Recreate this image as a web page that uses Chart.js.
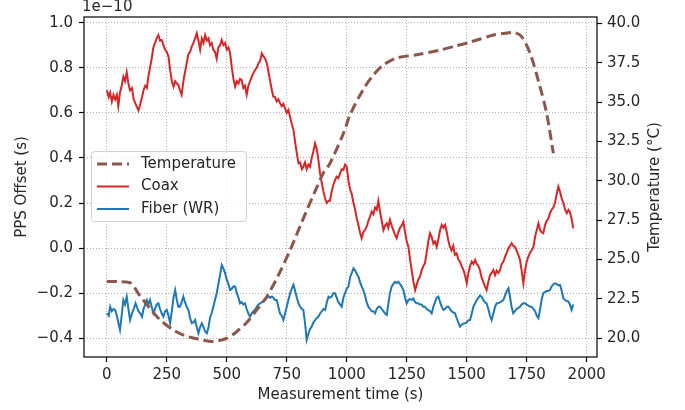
<!DOCTYPE html>
<html>
<head>
<meta charset="utf-8">
<script src="https://cdn.jsdelivr.net/npm/chart.js@4/dist/chart.umd.min.js"></script>
<style>
  html, body { margin: 0; padding: 0; background: #fff; }
  #wrap { width: 685px; height: 410px; }
</style>
</head>
<body>
<div id="wrap"><canvas id="ppsChart" width="685" height="410"></canvas></div>
<script>
// tick labels
const xTicks = [0, 250, 500, 750, 1000, 1250, 1500, 1750, 2000];
const offsetTicks = [-0.4, -0.2, 0.0, 0.2, 0.4, 0.6, 0.8, 1.0];
const tempTicks = [20.0, 22.5, 25.0, 27.5, 30.0, 32.5, 35.0, 37.5, 40.0];

// Temperature (°C) vs time (s)
const tempTime = [0, 50, 100, 133, 180, 220, 270, 320, 380, 445, 500, 540, 583, 625, 667, 715, 764, 830, 903, 930,
  986, 1014, 1069, 1110, 1153, 1208, 1292, 1389, 1450, 1514, 1611, 1650, 1701, 1729, 1764, 1805, 1833, 1861];
const tempValue = [23.6, 23.6, 23.5, 22.8, 21.9, 21.2, 20.6, 20.2, 19.95, 19.8, 20.0, 20.4, 21.0, 21.8, 22.65, 24.0, 25.6, 28.0, 30.5, 31.1,
  33.0, 34.2, 35.8, 36.7, 37.35, 37.8, 38.0, 38.3, 38.55, 38.8, 39.26, 39.35, 39.4, 39.15, 38.1, 36.0, 34.3, 31.75];

// Coax PPS offset, units of 1e-10 s
const coaxTime = [0, 8, 14, 21, 28, 35, 42, 48, 55, 62, 69, 76, 83, 90, 97, 105, 112, 120, 132, 140,
  147, 153, 160, 167, 173, 180, 187, 194, 201, 208, 215, 222, 229, 236, 243, 250, 257, 264, 271, 278,
  285, 292, 298, 305, 312, 319, 326, 333, 340, 347, 354, 361, 368, 375, 382, 389, 396, 403, 410, 417,
  424, 430, 437, 444, 451, 458, 465, 472, 479, 486, 493, 500, 507, 514, 521, 528, 535, 542, 549, 555,
  562, 569, 576, 583, 590, 597, 604, 611, 618, 625, 632, 639, 646, 653, 660, 667, 674, 681, 688, 694,
  701, 708, 715, 722, 729, 736, 743, 750, 757, 764, 771, 778, 785, 792, 799, 806, 813, 819, 826, 833,
  840, 847, 854, 861, 868, 875, 882, 889, 896, 903, 910, 917, 924, 930, 937, 944, 951, 958, 965, 972,
  979, 986, 993, 1000, 1007, 1014, 1021, 1028, 1035, 1042, 1049, 1055, 1062, 1069, 1076, 1083, 1090, 1097, 1104, 1111,
  1118, 1125, 1132, 1139, 1146, 1153, 1160, 1167, 1173, 1180, 1187, 1194, 1201, 1208, 1215, 1222, 1229, 1236, 1243, 1250,
  1257, 1264, 1271, 1278, 1285, 1292, 1298, 1305, 1312, 1319, 1326, 1333, 1340, 1347, 1354, 1361, 1368, 1375, 1382, 1389,
  1396, 1403, 1410, 1417, 1424, 1430, 1437, 1444, 1451, 1458, 1465, 1472, 1479, 1486, 1493, 1500, 1507, 1514, 1521, 1528,
  1535, 1542, 1549, 1555, 1562, 1569, 1576, 1583, 1590, 1597, 1604, 1611, 1618, 1625, 1632, 1639, 1646, 1653, 1660, 1667,
  1674, 1681, 1687, 1694, 1701, 1708, 1715, 1722, 1729, 1736, 1743, 1750, 1757, 1764, 1771, 1778, 1785, 1792, 1799, 1806,
  1812, 1819, 1826, 1833, 1840, 1847, 1854, 1861, 1868, 1875, 1882, 1889, 1896, 1903, 1910, 1917, 1924, 1930, 1937, 1944];
const coaxValue = [0.70, 0.67, 0.69, 0.65, 0.68, 0.66, 0.68, 0.63, 0.69, 0.72, 0.76, 0.74, 0.78, 0.73, 0.70, 0.71, 0.66, 0.64, 0.61, 0.64,
  0.67, 0.70, 0.72, 0.71, 0.76, 0.80, 0.84, 0.89, 0.91, 0.93, 0.945, 0.92, 0.923, 0.90, 0.88, 0.87, 0.85, 0.79, 0.74, 0.716,
  0.74, 0.73, 0.724, 0.70, 0.68, 0.74, 0.78, 0.82, 0.86, 0.87, 0.894, 0.91, 0.93, 0.953, 0.92, 0.88, 0.93, 0.91, 0.945, 0.92,
  0.93, 0.90, 0.91, 0.88, 0.87, 0.84, 0.89, 0.90, 0.923, 0.90, 0.91, 0.88, 0.89, 0.864, 0.80, 0.75, 0.716, 0.74, 0.73, 0.75,
  0.746, 0.71, 0.72, 0.68, 0.72, 0.74, 0.76, 0.776, 0.79, 0.80, 0.82, 0.83, 0.864, 0.85, 0.84, 0.82, 0.78, 0.74, 0.70, 0.672,
  0.67, 0.65, 0.66, 0.643, 0.63, 0.64, 0.62, 0.60, 0.613, 0.58, 0.55, 0.524, 0.47, 0.42, 0.376, 0.38, 0.35, 0.36, 0.38, 0.35,
  0.37, 0.36, 0.40, 0.43, 0.465, 0.44, 0.39, 0.33, 0.29, 0.25, 0.22, 0.20, 0.21, 0.21, 0.25, 0.28, 0.30, 0.317, 0.31, 0.33,
  0.35, 0.347, 0.37, 0.36, 0.30, 0.26, 0.24, 0.20, 0.17, 0.13, 0.10, 0.07, 0.044, 0.07, 0.08, 0.095, 0.12, 0.14, 0.162, 0.15,
  0.18, 0.17, 0.21, 0.16, 0.12, 0.08, 0.10, 0.11, 0.09, 0.125, 0.10, 0.08, 0.06, 0.044, 0.07, 0.09, 0.10, 0.117, 0.07, 0.03,
  0.006, -0.05, -0.10, -0.15, -0.186, -0.16, -0.14, -0.127, -0.10, -0.08, -0.067, -0.02, 0.03, 0.066, 0.05, 0.02, 0.03, 0.006, 0.04, 0.08,
  0.103, 0.09, 0.103, 0.07, 0.03, 0.006, -0.01, 0.01, -0.03, -0.023, -0.05, -0.06, -0.08, -0.097, -0.12, -0.156, -0.11, -0.08, -0.06, -0.07,
  -0.052, -0.07, -0.08, -0.097, -0.13, -0.15, -0.17, -0.186, -0.15, -0.12, -0.11, -0.097, -0.12, -0.10, -0.11, -0.097, -0.07, -0.06, -0.038, -0.02,
  0.00, 0.01, 0.022, 0.01, 0.006, -0.01, -0.03, -0.052, -0.10, -0.156, -0.10, -0.06, -0.038, -0.02, -0.01, 0.006, 0.05, 0.08, 0.11, 0.08,
  0.07, 0.066, 0.10, 0.12, 0.13, 0.155, 0.17, 0.18, 0.20, 0.24, 0.273, 0.25, 0.22, 0.20, 0.17, 0.155, 0.17, 0.162, 0.13, 0.088];

// Fiber (WR) PPS offset, units of 1e-10 s (same time base as coax)
const fiberTime = coaxTime;
const fiberValue = [-0.289, -0.30, -0.26, -0.28, -0.27, -0.274, -0.30, -0.33, -0.363, -0.30, -0.23, -0.25, -0.215, -0.27, -0.319, -0.29, -0.27, -0.245, -0.28, -0.29,
  -0.304, -0.27, -0.25, -0.23, -0.25, -0.23, -0.26, -0.289, -0.27, -0.25, -0.245, -0.27, -0.29, -0.304, -0.28, -0.274, -0.30, -0.333, -0.28, -0.22,
  -0.186, -0.23, -0.26, -0.26, -0.24, -0.215, -0.24, -0.26, -0.274, -0.31, -0.333, -0.33, -0.319, -0.35, -0.378, -0.35, -0.333, -0.35, -0.37, -0.378,
  -0.35, -0.31, -0.289, -0.26, -0.23, -0.20, -0.16, -0.12, -0.075, -0.09, -0.111, -0.14, -0.16, -0.186, -0.18, -0.17, -0.171, -0.20, -0.22, -0.245,
  -0.24, -0.25, -0.245, -0.27, -0.29, -0.304, -0.29, -0.28, -0.274, -0.26, -0.25, -0.245, -0.24, -0.235, -0.23, -0.22, -0.215, -0.22, -0.215, -0.22,
  -0.23, -0.23, -0.26, -0.29, -0.30, -0.319, -0.29, -0.26, -0.23, -0.20, -0.18, -0.163, -0.19, -0.22, -0.245, -0.26, -0.27, -0.274, -0.33, -0.407,
  -0.38, -0.36, -0.348, -0.33, -0.32, -0.31, -0.304, -0.29, -0.28, -0.27, -0.274, -0.24, -0.215, -0.22, -0.215, -0.20, -0.20, -0.22, -0.24, -0.25,
  -0.26, -0.22, -0.20, -0.18, -0.171, -0.13, -0.11, -0.09, -0.10, -0.115, -0.127, -0.15, -0.17, -0.186, -0.21, -0.24, -0.26, -0.27, -0.28, -0.28,
  -0.289, -0.27, -0.26, -0.26, -0.27, -0.28, -0.29, -0.296, -0.25, -0.20, -0.171, -0.16, -0.15, -0.155, -0.149, -0.16, -0.17, -0.186, -0.22, -0.245,
  -0.23, -0.225, -0.23, -0.223, -0.24, -0.245, -0.245, -0.25, -0.25, -0.26, -0.26, -0.27, -0.275, -0.28, -0.289, -0.26, -0.24, -0.22, -0.215, -0.24,
  -0.26, -0.274, -0.27, -0.26, -0.26, -0.27, -0.28, -0.285, -0.289, -0.31, -0.33, -0.348, -0.34, -0.335, -0.333, -0.33, -0.32, -0.319, -0.29, -0.26,
  -0.245, -0.23, -0.22, -0.21, -0.215, -0.23, -0.24, -0.245, -0.27, -0.30, -0.319, -0.29, -0.26, -0.245, -0.245, -0.24, -0.235, -0.23, -0.21, -0.19,
  -0.178, -0.22, -0.26, -0.289, -0.28, -0.27, -0.265, -0.26, -0.25, -0.245, -0.245, -0.25, -0.255, -0.26, -0.26, -0.27, -0.28, -0.30, -0.311, -0.27,
  -0.23, -0.20, -0.195, -0.19, -0.19, -0.186, -0.17, -0.16, -0.156, -0.16, -0.165, -0.163, -0.19, -0.223, -0.23, -0.235, -0.237, -0.25, -0.274, -0.25, -0.237];

const FONT = 'DejaVu Sans';
Chart.defaults.font.family = FONT;
Chart.defaults.font.size = 15;
Chart.defaults.color = '#262626';

const toXY = (xs, ys) => xs.map((x, i) => ({x: x, y: ys[i]}));
const fmt1 = v => v.toFixed(1).replace('-', '\u2212');

const legendItems = [
  {label: 'Temperature', color: '#8c564b', width: 3, dash: [10, 5]},
  {label: 'Coax', color: '#d62728', width: 2, dash: []},
  {label: 'Fiber (WR)', color: '#1f77b4', width: 2, dash: []}
];

// frame, offset multiplier text, right axis title and in-plot legend
const decorPlugin = {
  id: 'decor',
  afterDraw(chart) {
    const {ctx, chartArea: a} = chart;
    ctx.save();
    ctx.strokeStyle = '#000';
    ctx.lineWidth = 1.2;
    ctx.strokeRect(a.left, a.top, a.right - a.left, a.bottom - a.top);

    ctx.fillStyle = '#262626';
    ctx.font = '15px ' + FONT;
    ctx.textBaseline = 'middle';
    ctx.textAlign = 'left';
    ctx.fillText('1e\u221210', a.left - 2, 7);

    // right axis title, reading bottom to top
    ctx.save();
    ctx.translate(655, (a.top + a.bottom) / 2);
    ctx.rotate(-Math.PI / 2);
    ctx.textAlign = 'center';
    ctx.fillText('Temperature (\u00b0C)', 0, 0);
    ctx.restore();

    // legend box
    const bx = 91.5, by = 151.5, bw = 155, bh = 70;
    ctx.beginPath();
    if (ctx.roundRect) ctx.roundRect(bx, by, bw, bh, 3); else ctx.rect(bx, by, bw, bh);
    ctx.fillStyle = 'rgba(255,255,255,0.8)';
    ctx.fill();
    ctx.strokeStyle = '#d0d0d0';
    ctx.lineWidth = 1;
    ctx.stroke();
    legendItems.forEach((it, i) => {
      const y = 164 + i * 22.5;
      ctx.beginPath();
      ctx.setLineDash(it.dash);
      ctx.strokeStyle = it.color;
      ctx.lineWidth = it.width;
      ctx.moveTo(97, y);
      ctx.lineTo(129, y);
      ctx.stroke();
      ctx.setLineDash([]);
      ctx.fillStyle = '#262626';
      ctx.fillText(it.label, 141, y);
    });
    ctx.restore();
  }
};

const gridStyle = {color: '#b0b0b0', lineWidth: 1, tickColor: '#000', tickLength: 5, tickWidth: 1.2};

new Chart(document.getElementById('ppsChart').getContext('2d'), {
  type: 'line',
  data: {
    datasets: [
      {
        label: 'Coax',
        data: toXY(coaxTime, coaxValue),
        yAxisID: 'y',
        borderColor: '#d62728',
        borderWidth: 2,
        pointRadius: 0,
        tension: 0,
        order: 2
      },
      {
        label: 'Fiber (WR)',
        data: toXY(fiberTime, fiberValue),
        yAxisID: 'y',
        borderColor: '#1f77b4',
        borderWidth: 2,
        pointRadius: 0,
        tension: 0,
        order: 1
      },
      {
        label: 'Temperature',
        data: toXY(tempTime, tempValue),
        yAxisID: 'y1',
        borderColor: '#8c564b',
        borderWidth: 3,
        borderDash: [10, 5],
        pointRadius: 0,
        tension: 0.3,
        order: 0
      }
    ]
  },
  options: {
    responsive: false,
    animation: false,
    layout: {padding: {top: 17, left: 0, right: 0, bottom: 0}},
    plugins: {legend: {display: false}, tooltip: {enabled: false}},
    scales: {
      x: {
        type: 'linear',
        min: -95,
        max: 2043,
        afterFit: s => { s.height = 53; },
        afterBuildTicks: s => { s.ticks = xTicks.map(v => ({value: v})); },
        grid: gridStyle,
        border: {display: false, dash: [1, 2]},
        ticks: {padding: 4, maxRotation: 0, autoSkip: false, callback: v => String(v)},
        title: {display: true, text: 'Measurement time (s)', padding: {top: 0, bottom: 6}}
      },
      y: {
        type: 'linear',
        position: 'left',
        min: -0.483,
        max: 1.025,
        afterFit: s => { s.width = 84; },
        afterBuildTicks: s => { s.ticks = offsetTicks.map(v => ({value: v})); },
        grid: gridStyle,
        border: {display: false, dash: [1, 2]},
        ticks: {padding: 6, autoSkip: false, callback: v => fmt1(v)},
        title: {display: true, text: 'PPS Offset (s)', padding: {top: 13, bottom: 0}}
      },
      y1: {
        type: 'linear',
        position: 'right',
        min: 18.81,
        max: 40.4,
        afterFit: s => { s.width = 88; },
        afterBuildTicks: s => { s.ticks = tempTicks.map(v => ({value: v})); },
        grid: Object.assign({}, gridStyle, {drawOnChartArea: false}),
        border: {display: false},
        ticks: {padding: 5, autoSkip: false, callback: v => fmt1(v)},
        title: {display: false}
      }
    }
  },
  plugins: [decorPlugin]
});
</script>
</body>
</html>
